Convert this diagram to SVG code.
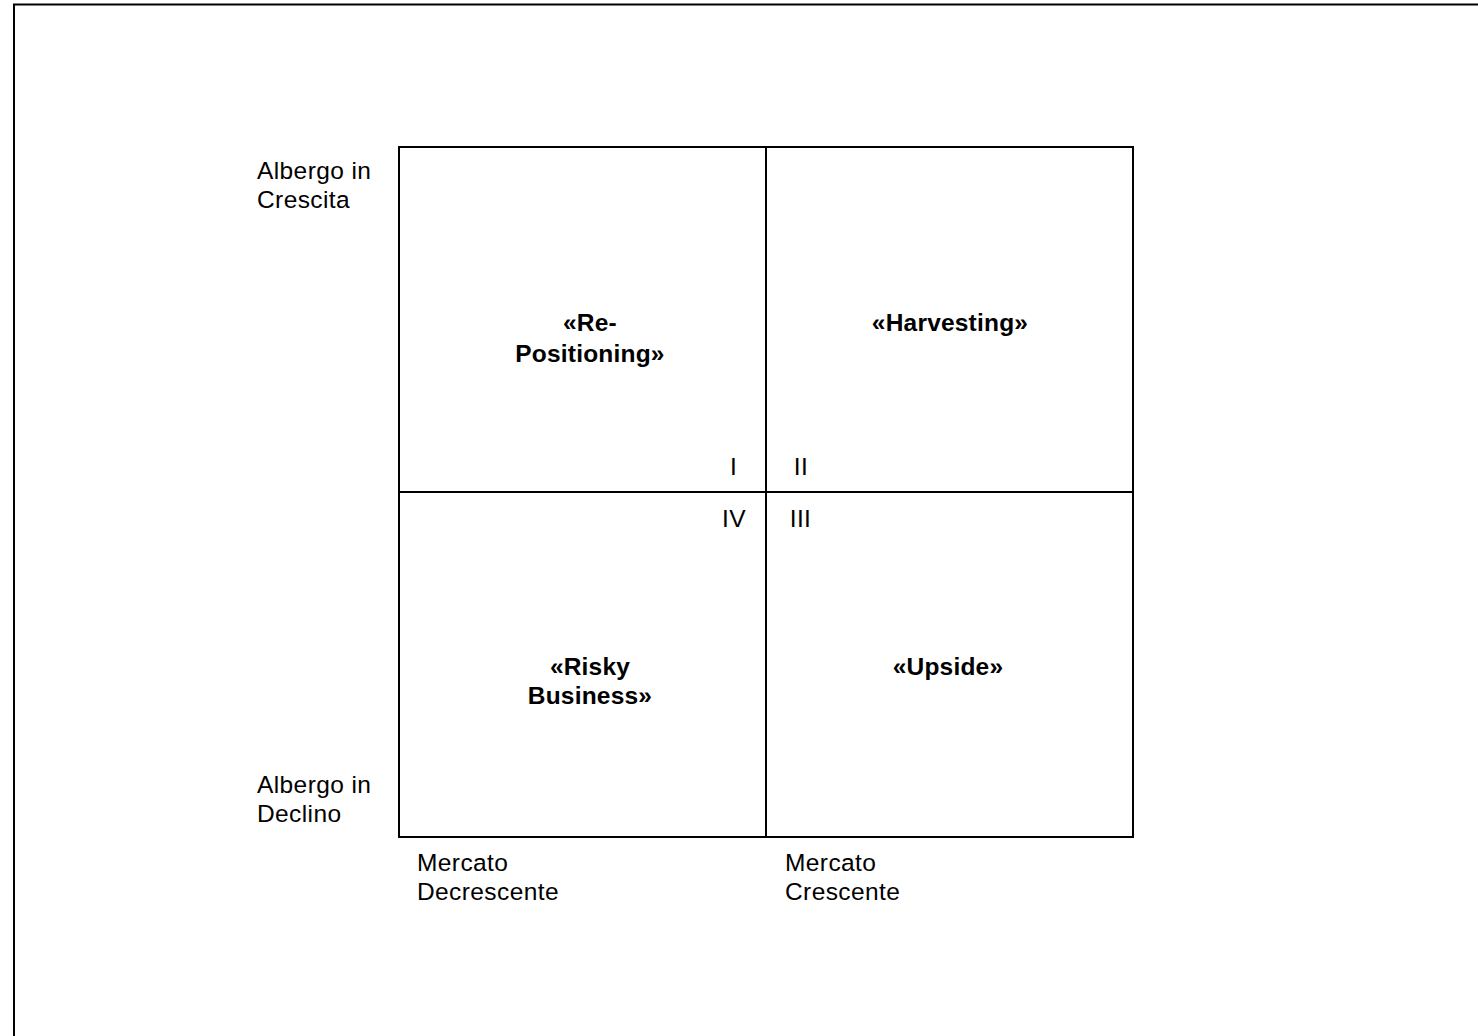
<svg xmlns="http://www.w3.org/2000/svg" width="1478" height="1036" viewBox="0 0 1478 1036">
<style>
.t{font-family:"Liberation Sans",Arial,sans-serif;font-size:24.5px;fill:#000;letter-spacing:0.4px}
.b{font-weight:bold;text-anchor:middle;letter-spacing:0.2px}
.ln{stroke:#000;stroke-width:2;fill:none}
</style>
<rect width="1478" height="1036" fill="#fff"/>
<rect x="14" y="4.5" width="1480" height="1050" class="ln"/>
<g id="axis-labels">
<text class="t" x="257" y="179">Albergo in</text>
<text class="t" x="257" y="208">Crescita</text>
<text class="t" x="257" y="793">Albergo in</text>
<text class="t" x="257" y="822">Declino</text>
<text class="t" x="417" y="871">Mercato</text>
<text class="t" x="417" y="900">Decrescente</text>
<text class="t" x="785" y="871">Mercato</text>
<text class="t" x="785" y="900">Crescente</text>
</g>
<g id="connectors">
<rect x="399" y="147" width="734" height="690" class="ln"/>
<line x1="766" y1="147" x2="766" y2="837" class="ln"/>
<line x1="399" y1="492" x2="1133" y2="492" class="ln"/>
</g>
<g id="q1">
<text class="t b" x="590" y="331">«Re-</text>
<text class="t b" x="590" y="362">Positioning»</text>
<text class="t" x="733.5" y="475" text-anchor="middle">I</text>
</g>
<g id="q2">
<text class="t b" x="950" y="331">«Harvesting»</text>
<text class="t" x="801" y="475" text-anchor="middle">II</text>
</g>
<g id="q3">
<text class="t b" x="948" y="675">«Upside»</text>
<text class="t" x="800.5" y="527" text-anchor="middle">III</text>
</g>
<g id="q4">
<text class="t b" x="590" y="675">«Risky</text>
<text class="t b" x="590" y="704">Business»</text>
<text class="t" x="734" y="527" text-anchor="middle">IV</text>
</g>
</svg>
